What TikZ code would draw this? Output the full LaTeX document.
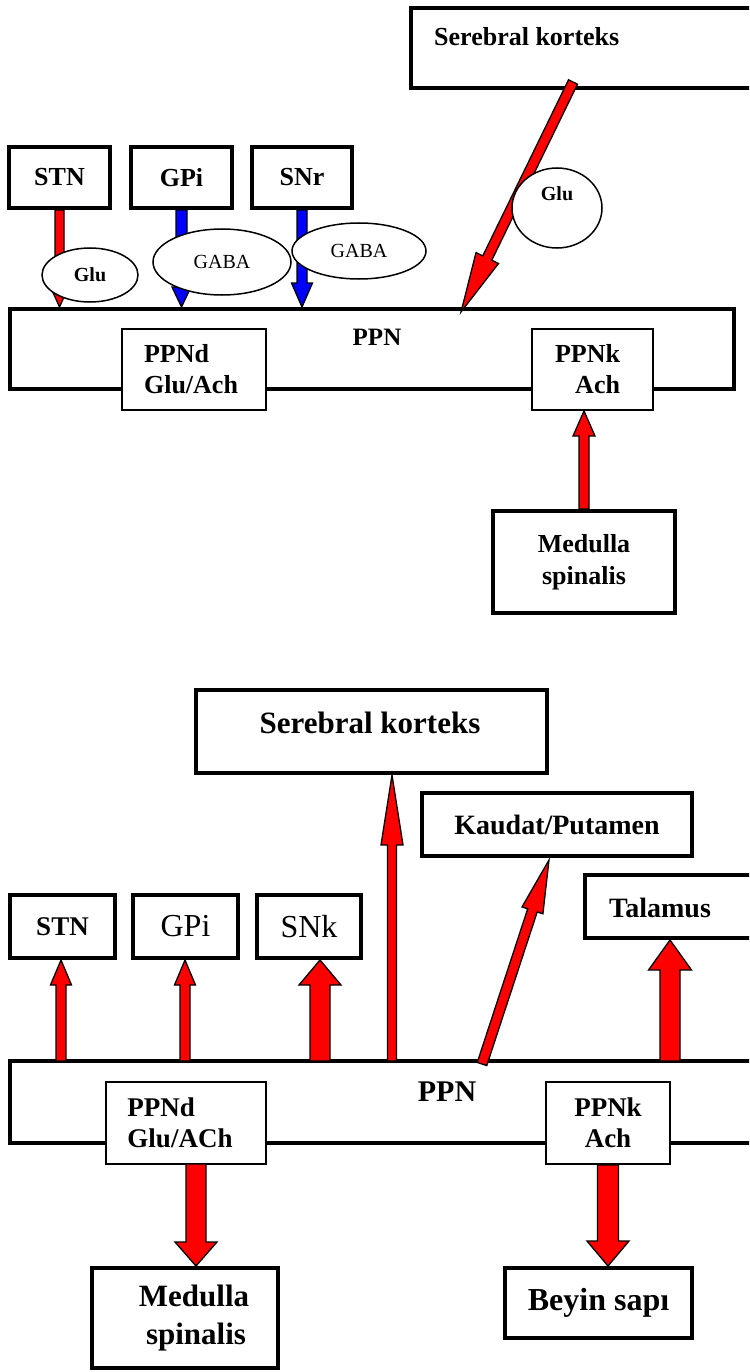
\documentclass[tikz,border=0pt]{standalone}
\usepackage{fontspec}
\setmainfont{Liberation Serif}
\usetikzlibrary{calc,shapes.geometric}
\definecolor{arred}{RGB}{255,0,0}
\definecolor{arblue}{RGB}{0,0,255}
\newcommand\setfs[2]{\fontsize{#1}{#2}\selectfont}
% #1 colour, #2 from, #3 to, #4 half shaft, #5 half head, #6 head length
\newcommand\blockarr[6]{%
  \coordinate (bn) at ($(#3)!#6!(#2)$);
  \filldraw[fill=#1,draw=black,line width=1.3pt,line join=miter]
    ($(#2)!#4!90:(#3)$) -- ($(bn)!#4!90:(#3)$) -- ($(bn)!#5!90:(#3)$) -- (#3)
    -- ($(bn)!#5!-90:(#3)$) -- ($(bn)!#4!-90:(#3)$) -- ($(#2)!#4!-90:(#3)$) -- cycle;}
\tikzset{
  thickbox/.style={draw, line width=4pt, fill=white, inner sep=0pt, align=center},
  thinbox/.style={draw, line width=2pt, fill=white, inner sep=0pt},
  oval/.style={ellipse, draw, line width=1.5pt, fill=white, inner sep=0pt},
  txt/.style={inner sep=0pt},
}
\begin{document}
\begin{tikzpicture}[x=1pt,y=-1pt]
\useasboundingbox (0,0) rectangle (749,1372);
\clip (0,0) rectangle (749,1372);
\fill[white] (0,0) rectangle (749,1372);

% ---------- top diagram ----------
\node[thickbox, minimum width=724pt, minimum height=80pt] (ppn1) at (372,349) {};
\node[txt, font=\setfs{25}{30}\bfseries] (ppn1t) at (377,337) {PPN};
\node[thinbox, minimum width=144pt, minimum height=81pt, align=left, font=\setfs{26}{31}\bfseries] (ppnd1) at (194,369.5) {PPNd\\Glu/Ach\hspace*{6pt}};
\node[thinbox, minimum width=121pt, minimum height=81pt, align=right, font=\setfs{26}{31}\bfseries] (ppnk1) at (592.5,369.5) {PPNk\hspace*{10pt}\\Ach\hspace*{10pt}};

\node[thickbox, minimum width=359pt, minimum height=80pt] (sk1) at (590.5,48) {};
\node[txt, anchor=west, font=\setfs{26}{31}\bfseries] (sk1t) at (434,37) {Serebral korteks};

\node[thickbox, minimum width=101pt, minimum height=61pt, font=\setfs{26}{31}\bfseries] (stn1) at (59.5,177.5) {STN};
\node[thickbox, minimum width=101pt, minimum height=61pt, font=\setfs{26}{31}\bfseries] (gpi1) at (181.5,177.5) {GPi};
\node[thickbox, minimum width=100pt, minimum height=61pt, font=\setfs{26}{31}\bfseries] (snr1) at (302,177.5) {SNr};
\node[thickbox, minimum width=182pt, minimum height=102pt, font=\setfs{26}{32}\bfseries] (med1) at (584,562) {Medulla\\spinalis};

\coordinate (a1) at (stn1.south |- ppn1.north);
\blockarr{arred}{stn1.south}{a1}{4.5pt}{9pt}{20pt}
\coordinate (a2) at (gpi1.south |- ppn1.north);
\blockarr{arblue}{gpi1.south}{a2}{5.5pt}{9.5pt}{20pt}
\coordinate (a3) at (snr1.south |- ppn1.north);
\blockarr{arblue}{snr1.south}{a3}{5pt}{10.5pt}{24pt}
\coordinate (a4s) at (573,82);
\coordinate (a4) at (461,312);
\blockarr{arred}{a4s}{a4}{5pt}{12.5pt}{60pt}
\coordinate (a5) at (med1.north |- ppnk1.south);
\blockarr{arred}{med1.north}{a5}{5pt}{11pt}{25pt}

\node[oval, minimum width=96pt, minimum height=54pt, font=\setfs{20}{24}\bfseries] (glu1) at (90,275) {Glu};
\node[oval, minimum width=138pt, minimum height=66pt, font=\setfs{20}{24}] (gaba1) at (222,262) {GABA};
\node[oval, minimum width=134pt, minimum height=56pt, font=\setfs{20}{24}] (gaba2) at (359,251) {GABA};
\node[oval, minimum width=90pt, minimum height=80pt, font=\setfs{20}{24}\bfseries] (glu2) at (557,208) {\raisebox{7pt}[0pt][0pt]{Glu}};

% ---------- bottom diagram ----------
\node[thickbox, minimum width=760pt, minimum height=82pt] (ppn2) at (390,1102) {};
\node[txt, font=\setfs{30}{36}\bfseries] (ppn2t) at (447,1092) {PPN};
\node[thinbox, minimum width=160pt, minimum height=82pt, align=left, font=\setfs{27}{31}\bfseries] (ppnd2) at (186,1123) {PPNd\\Glu/ACh\hspace*{12pt}};
\node[thinbox, minimum width=124pt, minimum height=82pt, align=center, font=\setfs{27}{31}\bfseries] (ppnk2) at (608,1123) {PPNk\\Ach};

\node[thickbox, minimum width=351pt, minimum height=83pt] (sk2) at (371.5,731.5) {};
\node[txt, font=\setfs{31}{36}\bfseries] (sk2t) at (370,723) {Serebral korteks};
\node[thickbox, minimum width=270pt, minimum height=63pt, font=\setfs{28}{33}\bfseries] (kp2) at (557,824.5) {Kaudat/Putamen};
\node[thickbox, minimum width=105pt, minimum height=63pt, font=\setfs{27}{32}\bfseries] (stn2) at (62.5,926.5) {STN};
\node[thickbox, minimum width=105pt, minimum height=63pt, font=\setfs{32}{36}] (gpi2) at (185.5,926.5) {GPi};
\node[thickbox, minimum width=104pt, minimum height=63pt, font=\setfs{32}{36}] (snk2) at (309,926.5) {SNk};
\node[thickbox, minimum width=185pt, minimum height=63pt] (tal2) at (677.5,906.5) {};
\node[txt, anchor=west, font=\setfs{28}{33}\bfseries] (tal2t) at (609,908) {Talamus};
\node[thickbox, minimum width=186pt, minimum height=100pt, font=\setfs{31}{38}\bfseries] (med2) at (185,1318) {\hspace*{18pt}Medulla\\\hspace*{22pt}spinalis};
\node[thickbox, minimum width=187pt, minimum height=70pt, font=\setfs{32}{36}\bfseries] (bs2) at (598.5,1303) {Beyin sapı};

\coordinate (b1s) at (61,1061);
\coordinate (b1) at (b1s |- stn2.south);
\blockarr{arred}{b1s}{b1}{5pt}{10.5pt}{25pt}
\coordinate (b2s) at (185,1061);
\coordinate (b2) at (b2s |- gpi2.south);
\blockarr{arred}{b2s}{b2}{5pt}{10.5pt}{25pt}
\coordinate (b3s) at (320,1061);
\coordinate (b3) at (b3s |- snk2.south);
\blockarr{arred}{b3s}{b3}{10pt}{21pt}{25pt}
\coordinate (b4s) at (392,1061);
\coordinate (b4) at (b4s |- sk2.south);
\blockarr{arred}{b4s}{b4}{4.5pt}{11pt}{70pt}
\coordinate (b5s) at (482,1064);
\coordinate (b5) at (549,860);
\blockarr{arred}{b5s}{b5}{5pt}{11pt}{53pt}
\coordinate (b6s) at (670,1061);
\coordinate (b6) at (b6s |- tal2.south);
\blockarr{arred}{b6s}{b6}{10pt}{21.5pt}{30pt}
\coordinate (b7s) at (196,1164);
\coordinate (b7) at (b7s |- med2.north);
\blockarr{arred}{b7s}{b7}{10pt}{21pt}{24pt}
\coordinate (b8) at (ppnk2.south |- bs2.north);
\blockarr{arred}{ppnk2.south}{b8}{10.5pt}{21pt}{25pt}
\end{tikzpicture}
\end{document}
